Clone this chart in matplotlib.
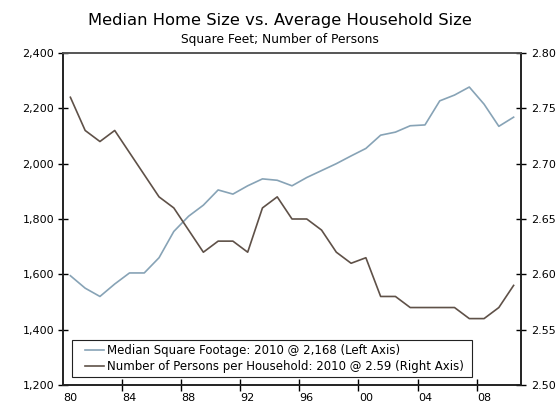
import matplotlib
matplotlib.use("Agg")
import numpy as np
import matplotlib.pyplot as plt
from matplotlib.ticker import FixedLocator, FuncFormatter, NullFormatter
from matplotlib.legend_handler import HandlerLine2D

years = list(range(1980, 2011))
sqft = [1595, 1550, 1520, 1565, 1605, 1605, 1660, 1755, 1810, 1850,
        1905, 1890, 1920, 1945, 1940, 1920, 1950, 1975, 2000, 2028,
        2055, 2103, 2114, 2137, 2140, 2227, 2248, 2277, 2215, 2135, 2168]
persons = [2.76, 2.73, 2.72, 2.73, 2.71, 2.69, 2.67, 2.66, 2.64, 2.62,
           2.63, 2.63, 2.62, 2.66, 2.67, 2.65, 2.65, 2.64, 2.62, 2.61,
           2.615, 2.58, 2.58, 2.57, 2.57, 2.57, 2.57, 2.56, 2.56, 2.57, 2.59]
left_ticks = [1200, 1400, 1600, 1800, 2000, 2200, 2400]
right_ticks = [2.50, 2.55, 2.60, 2.65, 2.70, 2.75, 2.80]
label_sqft = "Median Square Footage: 2010 @ 2,168 (Left Axis)"
label_persons = "Number of Persons per Household: 2010 @ 2.59 (Right Axis)"
title = "Median Home Size vs. Average Household Size"
subtitle = "Square Feet; Number of Persons"

blue = "#87A3B6"
brown = "#5F5148"


class ShiftedLine(HandlerLine2D):
    def get_xdata(self, legend, xdescent, ydescent, width, height, fontsize):
        x0 = -xdescent + width * 0.32
        x1 = -xdescent + width
        return np.array([x0, x1]), np.array([(x0 + x1) / 2])


plt.rcParams['font.family'] = ['DejaVu Sans']
fig = plt.figure(figsize=(5.6, 4.11), dpi=100)
ax = fig.add_axes([63/560, 1-385/411, (521-63)/560, (385-53)/411])
ax2 = ax.twinx()

x = list(range(len(years)))
l1, = ax.plot(x, sqft, color=blue, lw=1.2, label=label_sqft)
l2, = ax2.plot(x, persons, color=brown, lw=1.2, label=label_persons)

ax.set_xlim(-0.5, len(years) - 0.5)
ax.set_ylim(1200, 2400)
ax2.set_ylim(2.50, 2.80)
ax.set_yticks(left_ticks)
ax.yaxis.set_major_formatter(FuncFormatter(lambda v, p: f"{int(v):,}"))
ax2.set_yticks(right_ticks)
ax2.yaxis.set_major_formatter(FuncFormatter(lambda v, p: f"{v:.2f}"))

label_pos = [i for i, y in enumerate(years) if (y - 1980) % 4 == 0]
tick_pos = [i + 3.5 for i in label_pos if i + 3.5 < len(years) - 1]
ax.xaxis.set_major_locator(FixedLocator(tick_pos))
ax.xaxis.set_major_formatter(NullFormatter())
ax.xaxis.set_minor_locator(FixedLocator(label_pos))
ax.set_xticklabels([f"{years[i] % 100:02d}" for i in label_pos], minor=True)
ax.tick_params(axis='x', which='minor', length=0, labelsize=8, pad=6)
ax.tick_params(axis='x', which='major', direction='inout', length=8, width=1)
ax.tick_params(axis='y', direction='inout', length=7, width=1, labelsize=8, pad=3)
ax2.tick_params(axis='y', direction='inout', length=7, width=1, labelsize=8, pad=4)

for a in (ax, ax2):
    for s in a.spines.values():
        s.set_color('#222222')
        s.set_linewidth(1.2)
    a.spines['top'].set_color('#555555')

fig.text(0.5, 1-20/411, title, ha='center', va='center', fontsize=11.8)
fig.text(0.5, 1-39/411, subtitle, ha='center', va='center', fontsize=8.8)

leg = ax2.legend([l1, l2], [label_sqft, label_persons], loc='lower left',
                 bbox_to_anchor=(9/458, 8/332, 400/458, 0.05), mode='expand',
                 borderaxespad=0,
                 fancybox=False, edgecolor='#222222', framealpha=1,
                 fontsize=8.45, handlelength=2.4, handletextpad=0.25,
                 labelspacing=0.3, borderpad=0.3,
                 handler_map={l1: ShiftedLine(), l2: ShiftedLine()})
leg.get_frame().set_linewidth(0.8)

fig.savefig("out.png", dpi=100)
